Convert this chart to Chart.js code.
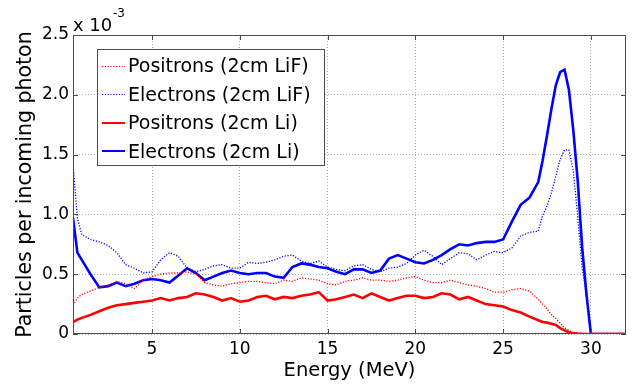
<!DOCTYPE html>
<html>
<head>
<meta charset="utf-8">
<script src="https://cdn.jsdelivr.net/npm/chart.js@4/dist/chart.umd.min.js"></script>
<style>
  body { margin: 0; background: #fff; }
  #wrap { width: 632px; height: 387px; }
</style>
</head>
<body>
<div id="wrap"><canvas id="spectrum" width="632" height="387"></canvas></div>
<script>
// energy grid (MeV), values in units of 1e-3 particles per photon
const energy = [0.5, 0.75, 1, 1.5, 2, 2.5, 3, 3.5, 4, 4.5,
    5, 5.5, 6, 6.5, 7, 7.5, 8, 8.5, 9, 9.5,
    10, 10.5, 11, 11.5, 12, 12.5, 13, 13.5, 14, 14.5,
    15, 15.5, 16, 16.5, 17, 17.5, 18, 18.5, 19, 19.5,
    20, 20.5, 21, 21.5, 22, 22.5, 23, 23.5, 24, 24.5,
    25, 25.5, 26, 26.5, 27,
    27.25, 27.5, 27.75, 28, 28.25, 28.5, 28.75, 29, 29.25, 29.5, 29.75, 30,
    31, 32];

const positronsLiF = [0.24, 0.30, 0.33, 0.36, 0.39, 0.41, 0.44, 0.42, 0.38, 0.45,
    0.48, 0.50, 0.51, 0.51, 0.52, 0.50, 0.43, 0.41, 0.40, 0.42,
    0.43, 0.44, 0.44, 0.43, 0.42, 0.45, 0.44, 0.47, 0.46, 0.45,
    0.42, 0.41, 0.44, 0.45, 0.47, 0.45, 0.45, 0.44, 0.45, 0.47,
    0.48, 0.45, 0.43, 0.43, 0.45, 0.43, 0.41, 0.40, 0.38, 0.35,
    0.35, 0.37, 0.38, 0.36, 0.29,
    0.25, 0.21, 0.16, 0.13, 0.09, 0.05, 0.03, 0.01, 0.004, 0.002, 0, 0,
    0, 0];

const electronsLiF = [1.42, 0.97, 0.83, 0.79, 0.77, 0.74, 0.68, 0.58, 0.55, 0.51,
    0.52, 0.62, 0.68, 0.65, 0.55, 0.52, 0.54, 0.57, 0.58, 0.55,
    0.55, 0.60, 0.59, 0.60, 0.62, 0.65, 0.66, 0.61, 0.59, 0.61,
    0.56, 0.54, 0.53, 0.57, 0.58, 0.54, 0.52, 0.55, 0.56, 0.59,
    0.66, 0.70, 0.65, 0.58, 0.63, 0.68, 0.67, 0.62, 0.66, 0.69,
    0.68, 0.72, 0.82, 0.85, 0.86,
    0.99, 1.07, 1.18, 1.32, 1.46, 1.54, 1.54, 1.36, 0.98, 0.56, 0.32, 0,
    0, 0];

const positronsLi = [0.10, 0.12, 0.135, 0.16, 0.19, 0.22, 0.24, 0.25, 0.26, 0.27,
    0.28, 0.30, 0.28, 0.30, 0.31, 0.34, 0.33, 0.31, 0.28, 0.30,
    0.27, 0.28, 0.31, 0.32, 0.29, 0.31, 0.30, 0.32, 0.33, 0.35,
    0.28, 0.29, 0.31, 0.33, 0.30, 0.34, 0.31, 0.28, 0.30, 0.32,
    0.32, 0.30, 0.31, 0.34, 0.33, 0.29, 0.31, 0.28, 0.25, 0.24,
    0.23, 0.20, 0.18, 0.145, 0.115,
    0.10, 0.095, 0.085, 0.075, 0.05, 0.03, 0.015, 0.007, 0.003, 0.001, 0, 0,
    0, 0];

const electronsLi = [0.97, 0.68, 0.62, 0.50, 0.39, 0.40, 0.43, 0.40, 0.42, 0.45,
    0.46, 0.45, 0.43, 0.49, 0.55, 0.51, 0.45, 0.48, 0.51, 0.53,
    0.51, 0.50, 0.51, 0.51, 0.48, 0.47, 0.56, 0.59, 0.58, 0.56,
    0.55, 0.52, 0.50, 0.54, 0.54, 0.51, 0.53, 0.63, 0.66, 0.63,
    0.60, 0.59, 0.62, 0.66, 0.71, 0.75, 0.74, 0.76, 0.77, 0.77,
    0.79, 0.94, 1.08, 1.14, 1.27,
    1.45, 1.66, 1.88, 2.08, 2.19, 2.21, 2.04, 1.70, 1.28, 0.73, 0.33, 0,
    0, 0];

const seriesLabels = ["Positrons (2cm LiF)", "Electrons (2cm LiF)", "Positrons (2cm Li)", "Electrons (2cm Li)"];
const seriesColors = ['#ff0000', '#0000ff', '#ff0000', '#0000ff'];
const seriesDotted = [true, true, false, false];
const yTicks = [0, 0.5, 1, 1.5, 2, 2.5];
const xTicks = [5, 10, 15, 20, 25, 30];

const FONT = "'DejaVu Sans', 'Liberation Sans', Arial, sans-serif";
const DOTS = [1.2, 1.6];

function toPoints(values) {
    return energy.map((e, i) => ({ x: e, y: values[i] }));
}

/**
 * MATLAB style frame: box, inward ticks, exponent label and legend.
 */
const matlabFrame = {
    id: 'matlabFrame',
    afterDatasetsDraw(chart) {
        const ctx = chart.ctx;
        const area = chart.chartArea;
        const xs = chart.scales.x;
        const ys = chart.scales.y;
        ctx.save();

        // box
        ctx.strokeStyle = '#4d4d4d';
        ctx.lineWidth = 1;
        ctx.setLineDash([]);
        ctx.strokeRect(area.left + 0.5, area.top + 0.5, area.right - area.left - 1, area.bottom - area.top - 1);

        // inward ticks
        const tl = 5;
        ctx.beginPath();
        xs.ticks.forEach(t => {
            const px = Math.round(xs.getPixelForValue(t.value)) + 0.5;
            ctx.moveTo(px, area.bottom);
            ctx.lineTo(px, area.bottom - tl);
            ctx.moveTo(px, area.top);
            ctx.lineTo(px, area.top + tl);
        });
        ys.ticks.forEach(t => {
            const py = Math.round(ys.getPixelForValue(t.value)) + 0.5;
            ctx.moveTo(area.left, py);
            ctx.lineTo(area.left + tl, py);
            ctx.moveTo(area.right, py);
            ctx.lineTo(area.right - tl, py);
        });
        ctx.stroke();

        // exponent label
        ctx.fillStyle = '#000';
        ctx.textBaseline = 'alphabetic';
        ctx.textAlign = 'left';
        ctx.font = '18px ' + FONT;
        ctx.fillText('x 10', area.left, 31);
        ctx.font = '12px ' + FONT;
        ctx.fillText('-3', area.left + 40, 17);

        // legend
        const box = { left: 97.5, top: 49.5, right: 324.5, bottom: 165.5 };
        ctx.fillStyle = '#fff';
        ctx.fillRect(box.left, box.top, box.right - box.left, box.bottom - box.top);
        ctx.strokeStyle = '#4d4d4d';
        ctx.lineWidth = 1;
        ctx.strokeRect(box.left, box.top, box.right - box.left, box.bottom - box.top);
        ctx.font = '19px ' + FONT;
        seriesLabels.forEach((label, i) => {
            const base = 72 + i * 28.5;
            const ly = Math.round(base - 6.5);
            ctx.beginPath();
            ctx.strokeStyle = seriesColors[i];
            ctx.lineWidth = seriesDotted[i] ? 1 : 2;
            ctx.setLineDash(seriesDotted[i] ? DOTS : []);
            ctx.moveTo(102, ly + (seriesDotted[i] ? 0.5 : 0));
            ctx.lineTo(125, ly + (seriesDotted[i] ? 0.5 : 0));
            ctx.stroke();
            ctx.setLineDash([]);
            ctx.fillStyle = '#000';
            ctx.fillText(label, 128, base);
        });
        ctx.restore();
    }
};

function initSpectrumChart() {
    const values = [positronsLiF, electronsLiF, positronsLi, electronsLi];
    const datasets = values.map((v, i) => ({
        label: seriesLabels[i],
        data: toPoints(v),
        borderColor: seriesColors[i],
        borderWidth: seriesDotted[i] ? 1.3 : 2.6,
        borderDash: seriesDotted[i] ? DOTS : [],
    }));

    const context = document.getElementById('spectrum').getContext('2d');
    const settings = {
        type: 'line',
        data: { datasets: datasets },
        options: {
            responsive: false,
            animation: false,
            layout: { padding: { top: 35, right: 6, left: 0, bottom: 0 } },
            elements: {
                point: { radius: 0 },
                line: { tension: 0, fill: false }
            },
            plugins: {
                legend: { display: false },
                tooltip: { enabled: false }
            },
            scales: {
                x: {
                    type: 'linear',
                    min: 0.5,
                    max: 32,
                    afterBuildTicks: scale => { scale.ticks = xTicks.map(v => ({ value: v })); },
                    afterFit: scale => { scale.height = 53; },
                    grid: { color: '#b0b0b0', lineWidth: 1, drawTicks: false },
                    border: { display: false, dash: [1, 2] },
                    ticks: {
                        color: '#000',
                        padding: 5,
                        maxRotation: 0,
                        font: { family: FONT, size: 17 }
                    },
                    title: {
                        display: true,
                        text: 'Energy (MeV)',
                        color: '#000',
                        font: { family: FONT, size: 19.5 },
                        padding: { top: 0, bottom: 4 }
                    }
                },
                y: {
                    type: 'linear',
                    min: 0,
                    max: 2.5,
                    afterBuildTicks: scale => { scale.ticks = yTicks.map(v => ({ value: v })); },
                    afterFit: scale => { scale.width = 73; },
                    grid: { color: '#b0b0b0', lineWidth: 1, drawTicks: false },
                    border: { display: false, dash: [1, 2] },
                    ticks: {
                        color: '#000',
                        padding: 4,
                        font: { family: FONT, size: 17 }
                    },
                    title: {
                        display: true,
                        text: 'Particles per incoming photon',
                        color: '#000',
                        font: { family: FONT, size: 20.5 },
                        padding: { top: 13, bottom: 0 }
                    }
                }
            }
        },
        plugins: [matlabFrame]
    };

    new Chart(context, settings);
}

initSpectrumChart();
</script>
</body>
</html>
